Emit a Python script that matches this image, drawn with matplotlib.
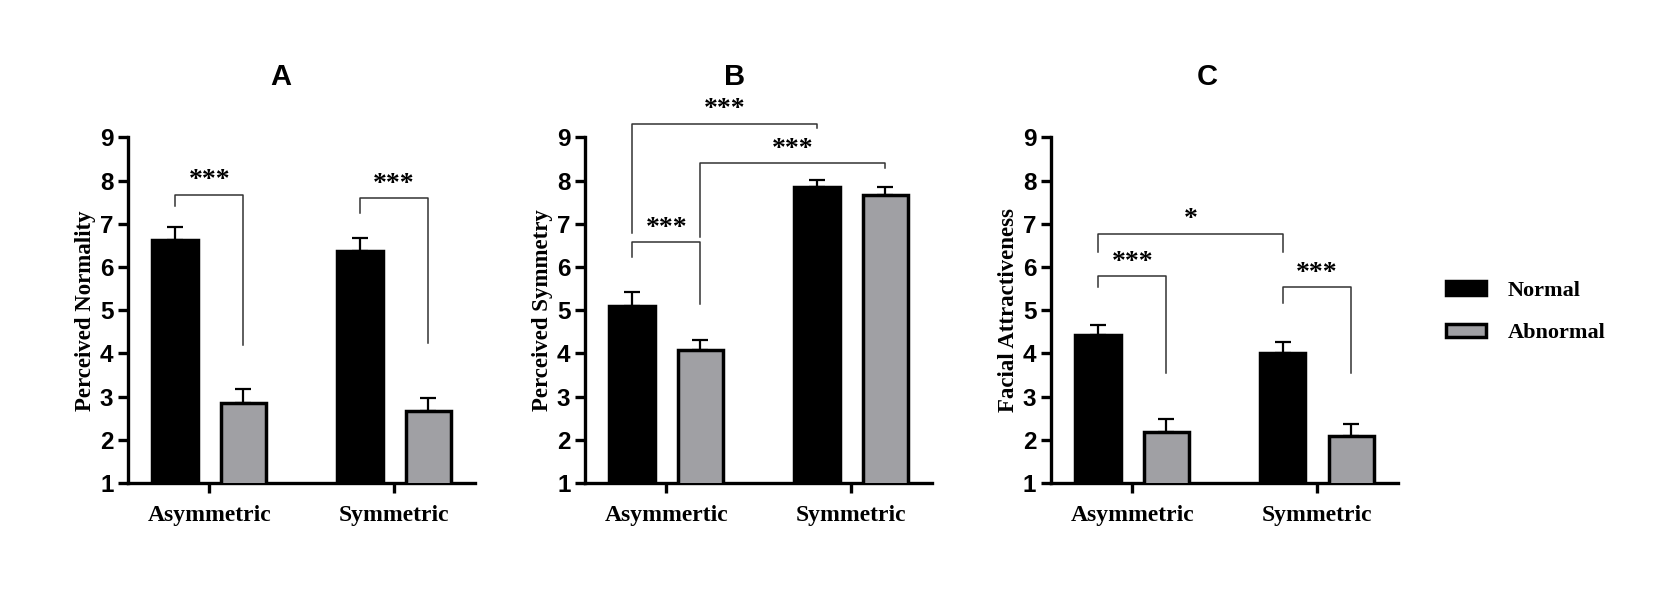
import numpy as np
import matplotlib
matplotlib.use("Agg")
import matplotlib.pyplot as plt
from matplotlib.patches import Patch

# data (means and upper error bars)
series = ['Normal', 'Abnormal']
titles = ['A', 'B', 'C']
ylabels = ['Perceived Normality', 'Perceived Symmetry', 'Facial Attractiveness']
groups = [['Asymmetric', 'Symmetric'],
          ['Asymmertic', 'Symmetric'],
          ['Asymmetric', 'Symmetric']]

normal_A = [6.62, 6.38]
normal_A_err = [0.30, 0.29]
abnormal_A = [2.86, 2.66]
abnormal_A_err = [0.31, 0.31]

normal_B = [5.09, 7.84]
normal_B_err = [0.33, 0.18]
abnormal_B = [4.07, 7.67]
abnormal_B_err = [0.25, 0.17]

normal_C = [4.42, 4.01]
normal_C_err = [0.24, 0.26]
abnormal_C = [2.19, 2.08]
abnormal_C_err = [0.29, 0.29]

# brackets: (group1, series1, group2, series2, top, left end, right end, label)
brackets_A = [(0, 0, 0, 1, 7.67, 7.42, 4.19, '***'),
              (1, 0, 1, 1, 7.60, 7.24, 4.23, '***')]
brackets_B = [(0, 0, 0, 1, 6.57, 6.23, 5.15, '***'),
              (0, 0, 1, 0, 9.32, 6.78, 9.21, '***'),
              (0, 1, 1, 1, 8.40, 6.69, 8.29, '***')]
brackets_C = [(0, 0, 1, 0, 6.77, 6.34, 6.34, '*'),
              (0, 0, 0, 1, 5.78, 5.54, 3.54, '***'),
              (1, 0, 1, 1, 5.54, 5.16, 3.54, '***')]

panels = [(normal_A, normal_A_err, abnormal_A, abnormal_A_err, brackets_A),
          (normal_B, normal_B_err, abnormal_B, abnormal_B_err, brackets_B),
          (normal_C, normal_C_err, abnormal_C, abnormal_C_err, brackets_C)]

colors = ['black', '#a0a0a4']
width = 0.245
offset = 0.185
sans = 'Liberation Sans'
serif = 'Liberation Serif'

fig = plt.figure(figsize=(16.54, 5.92), dpi=100)
lefts = [0.0774, 0.3537, 0.6354]
title_x = [0.44, 0.43, 0.45]

for i, (nm, nm_err, ab, ab_err, brs) in enumerate(panels):
    ax = fig.add_axes([lefts[i], 0.184, 0.2100, 0.584])
    x = np.arange(2)
    for j, (vals, errs) in enumerate([(nm, nm_err), (ab, ab_err)]):
        pos = x + (2 * j - 1) * offset
        ax.bar(pos, vals, width, bottom=0, color=colors[j], edgecolor='black',
               linewidth=2.5, zorder=3)
        ax.errorbar(pos, vals, yerr=[np.zeros(2), errs], fmt='none', ecolor='black',
                    elinewidth=1.6, capsize=6, capthick=1.6, zorder=2)
    for g1, s1, g2, s2, top, y1, y2, lab in brs:
        xa = g1 + (2 * s1 - 1) * offset
        xb = g2 + (2 * s2 - 1) * offset
        ax.plot([xa, xa, xb, xb], [y1, top, top, y2], color='#333333', lw=1.1,
                clip_on=False, zorder=4)
        ax.text((xa + xb) / 2, top + 0.32, lab, ha='center', va='center',
                fontsize=20, fontweight='bold', family=serif)
    ax.set_xlim(-0.44, 1.44)
    ax.set_ylim(1, 9)
    ax.set_yticks(range(1, 10))
    ax.set_xticks(x)
    ax.set_xticklabels(groups[i], family=serif, fontweight='bold', fontsize=17)
    for t in ax.get_yticklabels():
        t.set_family(sans)
        t.set_fontweight('bold')
        t.set_fontsize(17.5)
    ax.tick_params(axis='both', width=2.4, length=7, direction='out')
    ax.tick_params(axis='x', pad=9)
    ax.spines['top'].set_visible(False)
    ax.spines['right'].set_visible(False)
    ax.spines['left'].set_linewidth(2.4)
    ax.spines['bottom'].set_linewidth(2.4)
    ax.set_ylabel(ylabels[i], family=serif, fontweight='bold', fontsize=16.5, labelpad=3)
    ax.text(title_x[i], 1.175, titles[i], transform=ax.transAxes, ha='center',
            va='center', fontsize=21, fontweight='bold', family=sans)

handles = [Patch(facecolor=colors[0], edgecolor='black', linewidth=2.5),
           Patch(facecolor=colors[1], edgecolor='black', linewidth=2.5)]
fig.legend(handles, series, loc='center left', bbox_to_anchor=(0.862, 0.473),
           frameon=False, handlelength=1.8, handleheight=0.55, labelspacing=1.0,
           handletextpad=1.0, prop={'family': serif, 'weight': 'bold', 'size': 16})

fig.savefig('out.png', dpi=100, facecolor='white')
